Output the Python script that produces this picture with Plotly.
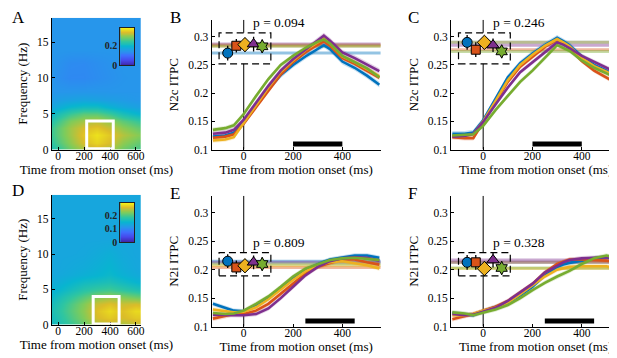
import numpy as np
import plotly.graph_objects as go

W, H = 617, 358
FONT = "Liberation Serif"
COLORS = ["#0072BD", "#D95319", "#EDB120", "#7E2F8E", "#77AC30"]
SYMBOLS = ["circle", "square", "diamond", "triangle-up", "hexagram"]
MSIZES = [10, 9, 11, 11, 10]

# ---------------- data ----------------
TIME = [-125, -75, -40, 0, 50, 100, 150, 200, 250, 300, 325, 350, 400, 450, 500, 550]

# order of series: blue, orange, yellow, purple, green
B_CURVES = [
    [.123, .125, .130, .148, .178, .207, .232, .250, .265, .279, .285, .278, .256, .245, .231, .215],
    [.121, .123, .127, .146, .175, .205, .233, .255, .272, .286, .292, .284, .262, .252, .240, .227],
    [.116, .118, .122, .147, .180, .210, .238, .258, .276, .290, .297, .288, .265, .255, .243, .230],
    [.128, .130, .135, .153, .183, .213, .240, .260, .277, .294, .302, .293, .272, .262, .250, .239],
    [.135, .138, .143, .163, .195, .225, .250, .266, .280, .291, .295, .288, .266, .255, .244, .228],
]
C_CURVES = [
    [.128, .128, .130, .152, .190, .228, .253, .270, .285, .298, .292, .285, .265, .250, .240, .228],
    [.122, .120, .120, .148, .183, .220, .247, .265, .282, .295, .288, .279, .257, .240, .227, .215],
    [.124, .124, .127, .150, .186, .223, .250, .268, .284, .296, .290, .283, .262, .248, .238, .228],
    [.123, .124, .128, .149, .180, .210, .237, .255, .272, .290, .286, .280, .266, .255, .245, .236],
    [.125, .126, .127, .142, .170, .195, .220, .240, .262, .285, .280, .275, .258, .245, .235, .225],
]
E_CURVES = [
    [.140, .133, .128, .127, .137, .150, .168, .185, .200, .210, .214, .218, .222, .225, .225, .221],
    [.114, .118, .122, .122, .128, .140, .158, .176, .193, .205, .209, .212, .218, .218, .213, .209],
    [.130, .127, .125, .126, .134, .148, .165, .182, .197, .208, .211, .213, .215, .212, .208, .202],
    [.121, .120, .120, .120, .122, .132, .150, .170, .190, .205, .210, .215, .220, .222, .221, .216],
    [.124, .122, .123, .128, .140, .153, .170, .188, .202, .210, .214, .217, .220, .221, .219, .217],
]
F_CURVES = [
    [.124, .122, .120, .127, .135, .142, .155, .170, .190, .205, .209, .212, .216, .220, .222, .218],
    [.113, .118, .122, .128, .135, .145, .160, .175, .195, .210, .214, .218, .218, .217, .216, .213],
    [.120, .120, .122, .128, .133, .142, .157, .172, .188, .200, .203, .205, .206, .206, .206, .201],
    [.122, .120, .121, .126, .133, .145, .160, .175, .195, .208, .213, .217, .220, .221, .222, .219],
    [.125, .123, .120, .125, .130, .138, .150, .164, .177, .188, .193, .198, .210, .220, .225, .219],
]
B_SEM = [0.005, 0.004, 0.004, 0.005, 0.004]
C_SEM = [0.005, 0.004, 0.004, 0.004, 0.004]
E_SEM = [0.004, 0.004, 0.004, 0.004, 0.004]
F_SEM = [0.004, 0.004, 0.004, 0.004, 0.004]

GROUP_X = [-65, -30, 5, 40, 75]
B_MEAN = [0.271, 0.284, 0.286, 0.287, 0.283]
C_MEAN = [0.290, 0.277, 0.290, 0.285, 0.274]
E_MEAN = [0.215, 0.204, 0.207, 0.213, 0.210]
F_MEAN = [0.213, 0.213, 0.202, 0.217, 0.203]
B_ERR = [0.013, 0.012, 0.012, 0.013, 0.012]
C_ERR = [0.013, 0.013, 0.012, 0.012, 0.012]
E_ERR = [0.012, 0.012, 0.012, 0.012, 0.012]
F_ERR = [0.013, 0.013, 0.013, 0.013, 0.012]
P_VALUES = ["0.094", "0.246", "0.809", "0.328"]
WINDOW_N2C = (200, 400)
WINDOW_N2I = (250, 450)

HM_TIME = [-50, 0, 100, 200, 300, 400, 500, 600, 650]
HM_FREQ = [0, 1, 2, 3, 4, 5, 6, 7, 8, 10, 12, 14, 18.4]
A_Z = [
    [0.22, 0.24, 0.28, 0.31, 0.33, 0.31, 0.28, 0.26, 0.25],
    [0.24, 0.26, 0.30, 0.34, 0.36, 0.34, 0.30, 0.28, 0.27],
    [0.25, 0.27, 0.31, 0.35, 0.37, 0.35, 0.32, 0.30, 0.29],
    [0.25, 0.27, 0.31, 0.34, 0.35, 0.33, 0.30, 0.28, 0.27],
    [0.23, 0.25, 0.29, 0.31, 0.32, 0.30, 0.27, 0.25, 0.24],
    [0.20, 0.22, 0.25, 0.27, 0.27, 0.25, 0.22, 0.20, 0.19],
    [0.17, 0.18, 0.20, 0.21, 0.21, 0.19, 0.175, 0.165, 0.16],
    [0.155, 0.16, 0.165, 0.17, 0.165, 0.16, 0.155, 0.15, 0.15],
    [0.147, 0.147, 0.147, 0.148, 0.148, 0.147, 0.147, 0.147, 0.147],
    [0.147, 0.138, 0.130, 0.130, 0.135, 0.140, 0.145, 0.147, 0.147],
    [0.147, 0.142, 0.133, 0.132, 0.137, 0.142, 0.147, 0.147, 0.147],
    [0.147, 0.147, 0.147, 0.147, 0.147, 0.147, 0.147, 0.147, 0.147],
    [0.147, 0.147, 0.147, 0.147, 0.147, 0.147, 0.147, 0.147, 0.147],
]
D_Z = [
    [0.160, 0.170, 0.190, 0.210, 0.240, 0.250, 0.240, 0.250, 0.250],
    [0.165, 0.175, 0.200, 0.225, 0.260, 0.270, 0.260, 0.270, 0.270],
    [0.170, 0.180, 0.205, 0.230, 0.265, 0.280, 0.265, 0.280, 0.280],
    [0.165, 0.175, 0.200, 0.225, 0.255, 0.265, 0.255, 0.260, 0.255],
    [0.155, 0.165, 0.185, 0.205, 0.225, 0.235, 0.225, 0.215, 0.210],
    [0.145, 0.150, 0.165, 0.180, 0.190, 0.195, 0.185, 0.175, 0.170],
    [0.138, 0.140, 0.150, 0.160, 0.165, 0.170, 0.160, 0.150, 0.145],
    [0.133, 0.134, 0.138, 0.143, 0.148, 0.155, 0.145, 0.138, 0.135],
    [0.132, 0.132, 0.135, 0.138, 0.143, 0.150, 0.140, 0.134, 0.132],
    [0.132, 0.132, 0.132, 0.133, 0.137, 0.142, 0.135, 0.132, 0.132],
    [0.132, 0.132, 0.132, 0.132, 0.132, 0.132, 0.132, 0.132, 0.132],
    [0.132, 0.132, 0.132, 0.132, 0.132, 0.132, 0.132, 0.132, 0.132],
    [0.132, 0.132, 0.132, 0.132, 0.132, 0.132, 0.132, 0.132, 0.132],
]
A_CMAX = 0.39
D_CMAX = 0.30
A_BOX = (220, 425, 0.1, 4.0)
D_BOX = (270, 470, 0.1, 4.0)

PARULA = [
    [0.0, "rgb(62,38,168)"], [0.125, "rgb(71,71,235)"], [0.25, "rgb(62,111,255)"],
    [0.375, "rgb(39,150,235)"], [0.5, "rgb(8,181,208)"], [0.625, "rgb(49,198,159)"],
    [0.75, "rgb(129,204,89)"], [0.875, "rgb(220,189,41)"], [1.0, "rgb(249,251,20)"],
]


def rgba(hexc, a):
    h = hexc.lstrip("#")
    return f"rgba({int(h[0:2],16)},{int(h[2:4],16)},{int(h[4:6],16)},{a})"


def xd(x0, x1):
    return [x0 / W, x1 / W]


def yd(top, bottom):
    return [1 - bottom / H, 1 - top / H]


fig = go.Figure()
shapes = []
annotations = []
tickfont = dict(family=FONT, size=11.5, color="black")
titlefont = dict(family=FONT, size=13, color="black")
base_axis = dict(showline=True, linecolor="black", linewidth=1, ticks="inside", ticklen=3,
                 tickcolor="black", tickfont=tickfont, showgrid=False, zeroline=False)
layout_axes = {}

# ---------------- heatmaps ----------------
for n, z, cmax, box, xdom, ydom, cbn, cb_ydom, cb_ticks in [
    ("", A_Z, A_CMAX, A_BOX, xd(44, 134), yd(10, 144), "7", yd(20, 58), [0, 0.2]),
    ("4", D_Z, D_CMAX, D_BOX, xd(44, 134), yd(190, 322), "8", yd(198, 238), [0, 0.1, 0.2]),
]:
    xa = "x" + n
    ya = "y" + n
    fig.add_trace(go.Heatmap(x=HM_TIME, y=HM_FREQ, z=z, zmin=0, zmax=cmax, colorscale=PARULA,
                             zsmooth="best", showscale=False, xaxis=xa, yaxis=ya, hoverinfo="skip"))
    layout_axes["xaxis" + n] = dict(base_axis, domain=xdom, anchor=ya, range=[-50, 640],
                                    tickvals=[0, 200, 400, 600], ticklabelstandoff=-4,
                                    title=dict(text="Time from motion onset (ms)", font=titlefont, standoff=1))
    layout_axes["yaxis" + n] = dict(base_axis, domain=ydom, anchor=xa, range=[0, 18.4],
                                    tickvals=[0, 5, 10, 15],
                                    title=dict(text="Frequency (Hz)", font=titlefont, standoff=6))
    shapes.append(dict(type="rect", xref=xa, yref=ya, x0=box[0], x1=box[1], y0=box[2], y1=box[3],
                       line=dict(color="white", width=3), layer="above"))
    # colorbar inset
    grad = np.linspace(0, cmax, 80)
    fig.add_trace(go.Heatmap(x=[0], y=grad, z=[[v] for v in grad], zmin=0, zmax=cmax,
                             colorscale=PARULA, showscale=False, xaxis="x" + cbn, yaxis="y" + cbn,
                             hoverinfo="skip"))
    layout_axes["xaxis" + cbn] = dict(domain=xd(113, 127), anchor="y" + cbn, showticklabels=False,
                                      showline=True, mirror=True, linecolor="#222", linewidth=1,
                                      ticks="", showgrid=False, zeroline=False, range=[-0.5, 0.5])
    layout_axes["yaxis" + cbn] = dict(domain=cb_ydom, anchor="x" + cbn, range=[0, cmax],
                                      tickvals=cb_ticks, ticktext=[f"{t:g}" for t in cb_ticks],
                                      tickfont=dict(family=FONT, size=10, color="#222", weight="bold"),
                                      showline=True, mirror=True, linecolor="#222", linewidth=1,
                                      ticks="", showgrid=False, zeroline=False)

# ---------------- line panels ----------------
line_panels = [
    ("2", B_CURVES, B_SEM, B_MEAN, B_ERR, WINDOW_N2C, "N2c ITPC", P_VALUES[0], xd(205, 375), yd(12, 144), (0.252, 0.307)),
    ("3", C_CURVES, C_SEM, C_MEAN, C_ERR, WINDOW_N2C, "N2c ITPC", P_VALUES[1], xd(446, 616), yd(12, 144), (0.252, 0.307)),
    ("5", E_CURVES, E_SEM, E_MEAN, E_ERR, WINDOW_N2I, "N2i ITPC", P_VALUES[2], xd(205, 375), yd(191, 324), (0.189, 0.230)),
    ("6", F_CURVES, F_SEM, F_MEAN, F_ERR, WINDOW_N2I, "N2i ITPC", P_VALUES[3], xd(446, 616), yd(191, 324), (0.189, 0.230)),
]
YR = [0.1, 0.33]
for n, curves, sem, means, errs, win, ylab, pval, xdom, ydom, boxy in line_panels:
    xa, ya = "x" + n, "y" + n
    for c, col, s in zip(curves, COLORS, sem):
        c = np.array(c)
        fig.add_trace(go.Scatter(x=TIME + TIME[::-1], y=list(c + s) + list((c - s)[::-1]),
                                 fill="toself", fillcolor=rgba(col, 0.22), line=dict(width=0),
                                 mode="lines", xaxis=xa, yaxis=ya, showlegend=False, hoverinfo="skip"))
    for c, col in zip(curves, COLORS):
        fig.add_trace(go.Scatter(x=TIME, y=c, mode="lines", line=dict(color=col, width=2.6),
                                 xaxis=xa, yaxis=ya, showlegend=False))
    for gx, m, e, col, sym, ms in zip(GROUP_X, means, errs, COLORS, SYMBOLS, MSIZES):
        shapes.append(dict(type="line", xref=xa + " domain", x0=0, x1=1, yref=ya, y0=m, y1=m,
                           line=dict(color=rgba(col, 0.42), width=3), layer="below"))
        fig.add_trace(go.Scatter(x=[gx], y=[m], mode="markers",
                                 error_y=dict(type="data", array=[e], color="black", thickness=1.3, width=0),
                                 marker=dict(symbol=sym, size=ms, color=col, line=dict(color="black", width=1)),
                                 xaxis=xa, yaxis=ya, showlegend=False))
    # zero line (interrupted by inset box)
    shapes.append(dict(type="line", xref=xa, yref=ya, x0=0, x1=0, y0=YR[0], y1=boxy[0],
                       line=dict(color="black", width=1), layer="below"))
    shapes.append(dict(type="line", xref=xa, yref=ya, x0=0, x1=0, y0=boxy[1], y1=YR[1],
                       line=dict(color="black", width=1), layer="below"))
    shapes.append(dict(type="rect", xref=xa, yref=ya, x0=-100, x1=110, y0=boxy[0], y1=boxy[1],
                       line=dict(color="black", width=1.2, dash="7px,4px"), layer="above"))
    shapes.append(dict(type="line", xref=xa, yref=ya, x0=win[0], x1=win[1], y0=0.11, y1=0.11,
                       line=dict(color="black", width=5), layer="above"))
    annotations.append(dict(xref=xa, yref=ya, x=30, y=boxy[1] + 0.018, text="p = " + pval,
                            showarrow=False, xanchor="left", yanchor="middle",
                            font=dict(family=FONT, size=13.5, color="black")))
    layout_axes["xaxis" + n] = dict(base_axis, domain=xdom, anchor=ya, range=[-130, 555],
                                    tickvals=[0, 200, 400], ticklabelstandoff=-4,
                                    title=dict(text="Time from motion onset (ms)", font=titlefont, standoff=1))
    layout_axes["yaxis" + n] = dict(base_axis, domain=ydom, anchor=xa, range=YR,
                                    tickvals=[0.1, 0.15, 0.2, 0.25, 0.3],
                                    ticktext=["0.1", "0.15", "0.2", "0.25", "0.3"],
                                    title=dict(text=ylab, font=titlefont, standoff=6))

# panel letters
for letter, px, py in [("A", 2, -2), ("B", 161, -2), ("C", 401, -2), ("D", 2, 174), ("E", 161, 177), ("F", 401, 177)]:
    annotations.append(dict(xref="paper", yref="paper", x=px / W, y=1 - py / H, text=letter,
                            showarrow=False, xanchor="left", yanchor="top",
                            font=dict(family=FONT, size=17, color="black")))

fig.update_layout(width=W, height=H, margin=dict(l=0, r=0, t=0, b=0),
                  paper_bgcolor="white", plot_bgcolor="rgba(0,0,0,0)",
                  showlegend=False, shapes=shapes, annotations=annotations, **layout_axes)
fig.write_html("out.html")
